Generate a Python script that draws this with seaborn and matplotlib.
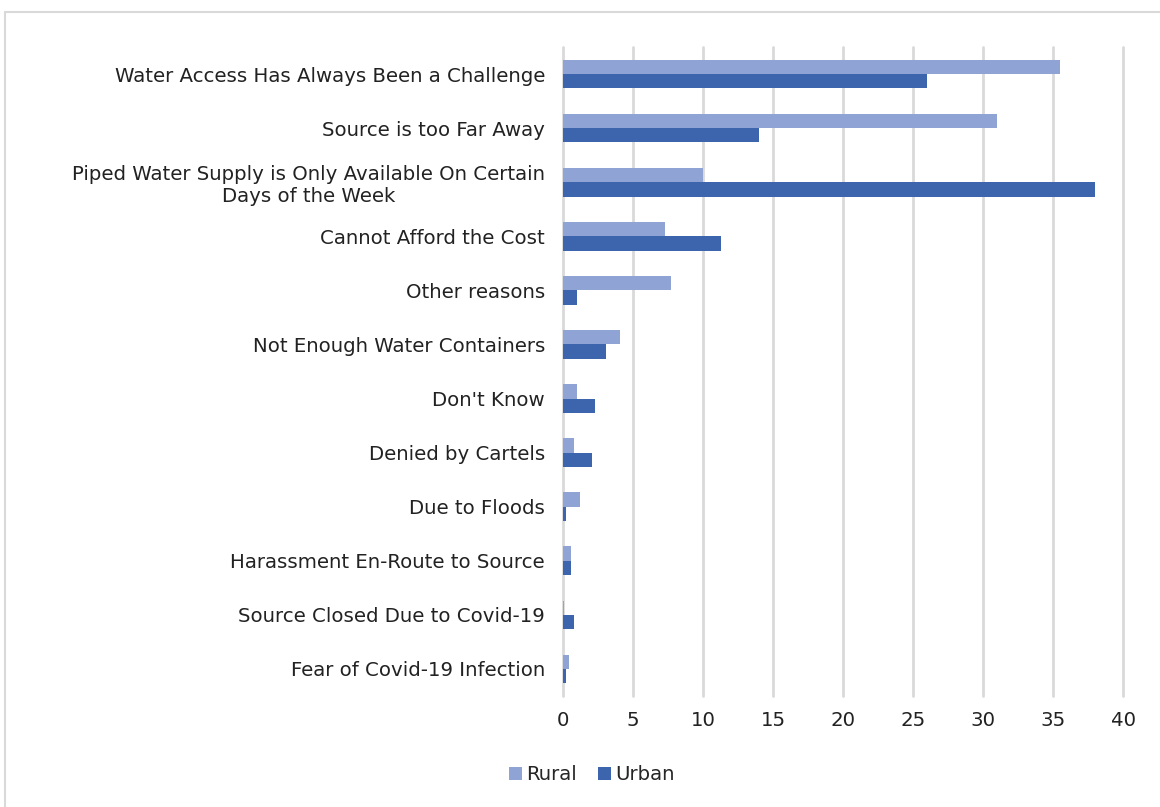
#!/usr/bin/env python3

import pandas as pd
import matplotlib.pyplot as plt
import seaborn as sns
from matplotlib.patches import Rectangle

# reasons for not accessing water, % of respondents
reasons = [
    "Water Access Has Always Been a Challenge",
    "Source is too Far Away",
    "Piped Water Supply is Only Available On Certain\nDays of the Week",
    "Cannot Afford the Cost",
    "Other reasons",
    "Not Enough Water Containers",
    "Don't Know",
    "Denied by Cartels",
    "Due to Floods",
    "Harassment En-Route to Source",
    "Source Closed Due to Covid-19",
    "Fear of Covid-19 Infection",
]
rural = [35.5, 31.0, 10.0, 7.3, 7.7, 4.1, 1.0, 0.8, 1.2, 0.6, 0.1, 0.4]
urban = [26.0, 14.0, 38.0, 11.3, 1.0, 3.1, 2.3, 2.1, 0.2, 0.6, 0.8, 0.2]
xticks = [0, 5, 10, 15, 20, 25, 30, 35, 40]

RURAL_COLOR = "#8FA4D4"
URBAN_COLOR = "#3C65AD"
GRID_COLOR = "#D9D9D9"
FS = 14.2


def main():
    sns.set_style("white")
    plt.rcParams["font.family"] = ["DejaVu Sans"]

    df = pd.DataFrame({"reason": reasons, "Rural": rural, "Urban": urban})
    long = df.melt(id_vars="reason", var_name="area", value_name="pct")

    fig = plt.figure(figsize=(11.6, 8.07), dpi=100)
    ax = fig.add_axes([563 / 1160, 1 - 696 / 807, 560 / 1160, (696 - 47) / 807])

    sns.barplot(
        data=long,
        y="reason",
        x="pct",
        hue="area",
        hue_order=["Rural", "Urban"],
        order=reasons,
        palette=[RURAL_COLOR, URBAN_COLOR],
        width=0.53,
        orient="h",
        ax=ax,
        saturation=1,
        linewidth=0,
        zorder=3,
    )

    ax.set_xlim(0, 40)
    ax.set_xticks(xticks)
    ax.set_xticklabels([str(t) for t in xticks], fontsize=FS, color="#222222")
    ax.tick_params(axis="x", length=0, pad=11)
    ax.tick_params(axis="y", length=0, pad=13)
    for lbl in ax.get_yticklabels():
        lbl.set_fontsize(FS)
        lbl.set_color("#222222")
        lbl.set_multialignment("center")
    ax.set_xlabel("")
    ax.set_ylabel("")
    ax.grid(axis="x", color=GRID_COLOR, linewidth=2)
    for gl in ax.get_xgridlines():
        gl.set_clip_on(False)
    ax.set_axisbelow(True)
    for s in ax.spines.values():
        s.set_visible(False)

    ax.legend(
        loc="center",
        bbox_to_anchor=(592 / 1160, 1 - 775 / 807),
        bbox_transform=fig.transFigure,
        ncol=2,
        frameon=False,
        fontsize=FS,
        handlelength=0.65,
        handleheight=0.65,
        handletextpad=0.2,
        columnspacing=1.1,
    )

    # light outer frame like the original chart area
    fig.patches.append(
        Rectangle(
            (5 / 1160, -0.05),
            1.05,
            1 - 12 / 807 + 0.05,
            transform=fig.transFigure,
            fill=False,
            edgecolor=GRID_COLOR,
            linewidth=1.5,
        )
    )

    fig.savefig("out.png", dpi=100)
    plt.close(fig)


if __name__ == "__main__":
    main()
